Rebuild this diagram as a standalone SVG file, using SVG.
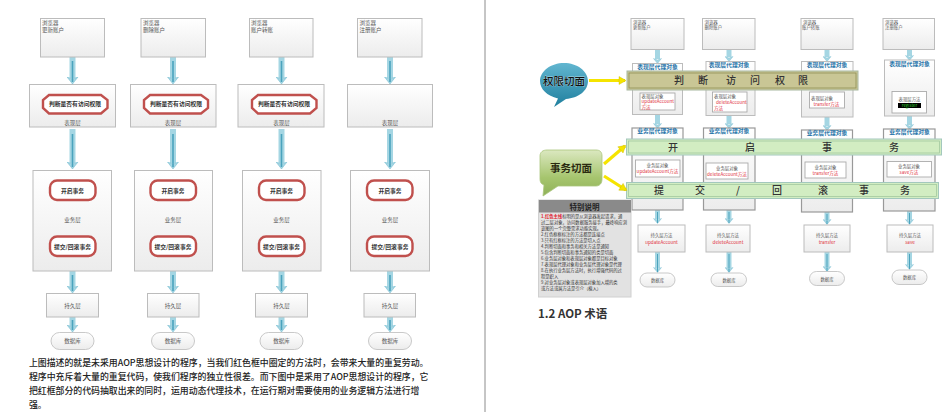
<svg xmlns="http://www.w3.org/2000/svg" width="949" height="412" viewBox="0 0 949 412">
<style>
text{font-family:"Noto Sans CJK SC","Noto Sans",sans-serif;fill:#555;font-size:5.5px}
.m{text-anchor:middle}
.t{font-size:4.4px}
.box{fill:url(#g);stroke:#bcbcbc;stroke-width:1}
.red{fill:#fff;stroke:#c0504d;stroke-width:2.4}
.rt{fill:#333;font-weight:700;font-size:5.8px;text-anchor:middle}
.s{stroke:#a5d6e3;stroke-width:6;marker-end:url(#h);fill:none}
.s2{stroke:#a5d6e3;stroke-width:5;marker-end:url(#h2);fill:none}
.c{stroke:#4ba3bd;stroke-width:1.6;fill:none}
.c2{stroke:#4ba3bd;stroke-width:1;fill:none}
.db{fill:url(#g);stroke:#bbb;stroke-width:.8}
.p{font-size:8.9px;fill:#222;font-weight:500}
.pb{fill:#1f73a8;font-size:5.8px;font-weight:700;text-anchor:middle}
.r{fill:#e0303c;font-size:4.6px;text-anchor:middle}
.rs{fill:#e0303c;font-size:4.6px}
.in{fill:#fff;stroke:#aaa;stroke-width:.9}
.bt{font-size:10px;font-weight:500;fill:#333;text-anchor:middle}
.ye{stroke:#f5e400;stroke-width:3.2;marker-end:url(#y);fill:none}
.sp{font-size:4.3px;fill:#333}
.b{fill:url(#g);stroke:#999;stroke-width:1.2}
</style>
<defs>
<linearGradient id="g" x1="0" y1="0" x2="0" y2="1"><stop offset="0" stop-color="#fff"/><stop offset="1" stop-color="#ececec"/></linearGradient>
<linearGradient id="bl" x1="0" y1="0" x2="0" y2="1"><stop offset="0" stop-color="#62b6d0"/><stop offset="1" stop-color="#1f7f9e"/></linearGradient>
<linearGradient id="gr" x1="0" y1="0" x2="0" y2="1"><stop offset="0" stop-color="#dbe8c0"/><stop offset=".6" stop-color="#a6c56e"/><stop offset="1" stop-color="#8fb158"/></linearGradient>
<marker id="h" markerUnits="userSpaceOnUse" markerWidth="8" markerHeight="12" refX="1.500" refY="6" orient="auto" viewBox="0 0 8 12"><path d="M.5 .5L7.500 6 .5 11.500 2.500 6Z" fill="#a5d6e3" stroke="#6fb9cf" stroke-width=".5"/></marker>
<marker id="h2" markerUnits="userSpaceOnUse" markerWidth="6" markerHeight="9" refX="1" refY="4.500" orient="auto" viewBox="0 0 6 9"><path d="M.5 .5L5.500 4.500 .5 8.500 2 4.500Z" fill="#a5d6e3" stroke="#6fb9cf" stroke-width=".4"/></marker>
<marker id="y" markerUnits="userSpaceOnUse" markerWidth="10" markerHeight="10" refX="8" refY="5" orient="auto" viewBox="0 0 10 10"><path d="M2 1L9 5 2 9Z" fill="#f5e400" stroke="#c9b900" stroke-width=".4"/></marker>
</defs>
<rect width="949" height="412" fill="#fff"/>
<line x1="485" y1="0" x2="485" y2="412" stroke="#8c8c8c" stroke-width="1"/>

<g id="connectors">
<path class="s" d="M72.500 57V78"/><path class="s" d="M72.500 129V163"/><path class="s" d="M72.500 271V287"/><path class="s" d="M72.500 317V326"/>
<path class="s" d="M173 57V78"/><path class="s" d="M173 129V163"/><path class="s" d="M173 271V287"/><path class="s" d="M173 317V326"/>
<path class="s" d="M281.500 57V78"/><path class="s" d="M281.500 129V163"/><path class="s" d="M281.500 271V287"/><path class="s" d="M281.500 317V326"/>
<path class="s" d="M390 57V78"/><path class="s" d="M390 129V163"/><path class="s" d="M390 271V287"/><path class="s" d="M390 317V326"/>
<path class="c" d="M72.500 61V82M72.500 134V167M72.500 275V291M72.500 320V330M173 61V82M173 134V167M173 275V291M173 320V330M281.500 61V82M281.500 134V167M281.500 275V291M281.500 320V330M390 61V82M390 134V167M390 275V291M390 320V330"/>
<path class="s2" d="M657.500 50V59"/><path class="s2" d="M657.500 115V124"/><path class="s2" d="M657.500 210V219"/><path class="s2" d="M657.500 252V268"/>
<path class="s2" d="M729 50V57"/><path class="s2" d="M729 116V124"/><path class="s2" d="M729 210V219"/><path class="s2" d="M729 252V268"/>
<path class="s2" d="M827 50V57"/><path class="s2" d="M827 117V126"/><path class="s2" d="M827 212V220"/><path class="s2" d="M827 252V267"/>
<path class="s2" d="M909.500 50V56"/><path class="s2" d="M909.500 116V125"/><path class="s2" d="M909.500 211V220"/><path class="s2" d="M909.500 252V265"/>
<path class="c2" d="M657.500 212V223M657.500 254V272M729 212V223M729 254V272M827 214V224M827 254V271M909.500 213V224M909.500 254V269"/>
</g>

<g id="l-browser-1"><rect class="box" x="40.500" y="18.500" width="64" height="38.500"/><text x="42" y="24.500">浏览器</text><text x="42" y="31.500">更新账户</text></g>
<g id="l-browser-2"><rect class="box" x="141" y="18.500" width="64.500" height="38.500"/><text x="143" y="24.500">浏览器</text><text x="143" y="31.500">删除账户</text></g>
<g id="l-browser-3"><rect class="box" x="249.500" y="18.500" width="63.500" height="38.500"/><text x="251" y="24.500">浏览器</text><text x="251" y="31.500">账户转账</text></g>
<g id="l-browser-4"><rect class="box" x="357.500" y="18.500" width="64.500" height="38.500"/><text x="359.500" y="24.500">浏览器</text><text x="359.500" y="31.500">注册账户</text></g>

<g id="l-web-1"><rect class="box" x="29.500" y="84.500" width="86" height="42.500"/><path class="red" d="M49 95H101L107.500 100V108L101 113.500H49L43 108V100Z"/><text class="rt" x="75" y="105.500">判断是否有访问权限</text><text class="m" x="72.500" y="125">表现层</text></g>
<g id="l-web-2"><rect class="box" x="130.500" y="84.500" width="85.500" height="42.500"/><path class="red" d="M150 95H201L208 100V108L201 113.500H150L144 108V100Z"/><text class="rt" x="176" y="105.500">判断是否有访问权限</text><text class="m" x="173" y="125">表现层</text></g>
<g id="l-web-3"><rect class="box" x="238" y="84.500" width="86" height="42.500"/><path class="red" d="M258 95H310L316.500 100V108L310 113.500H258L252 108V100Z"/><text class="rt" x="284" y="105.500">判断是否有访问权限</text><text class="m" x="281.500" y="125">表现层</text></g>
<g id="l-web-4"><rect class="box" x="347.500" y="84.500" width="85" height="42.500"/><text class="m" x="390" y="125">表现层</text></g>

<g id="l-biz-1"><rect class="box" x="33" y="170.500" width="78.500" height="100.500"/><rect class="red" x="50" y="180.500" width="45.500" height="19.500" rx="7"/><text class="rt" x="72.500" y="192.500">开启事务</text><text class="m" x="72.500" y="222">业务层</text><rect class="red" x="50" y="236.500" width="45.500" height="19.500" rx="7"/><text class="rt" x="72.500" y="248.500">提交/回滚事务</text></g>
<g id="l-biz-2"><rect class="box" x="134.500" y="170.500" width="78" height="100.500"/><rect class="red" x="150.500" y="180.500" width="45.500" height="19.500" rx="7"/><text class="rt" x="173" y="192.500">开启事务</text><text class="m" x="173" y="222">业务层</text><rect class="red" x="150.500" y="236.500" width="45.500" height="19.500" rx="7"/><text class="rt" x="173" y="248.500">提交/回滚事务</text></g>
<g id="l-biz-3"><rect class="box" x="242.500" y="170.500" width="78.500" height="100.500"/><rect class="red" x="259" y="180.500" width="45.500" height="19.500" rx="7"/><text class="rt" x="281.500" y="192.500">开启事务</text><text class="m" x="281.500" y="222">业务层</text><rect class="red" x="259" y="236.500" width="45.500" height="19.500" rx="7"/><text class="rt" x="281.500" y="248.500">提交/回滚事务</text></g>
<g id="l-biz-4"><rect class="box" x="350.500" y="170.500" width="79" height="100.500"/><rect class="red" x="367" y="180.500" width="45.500" height="19.500" rx="7"/><text class="rt" x="390" y="192.500">开启事务</text><text class="m" x="390" y="222">业务层</text><rect class="red" x="367" y="236.500" width="45.500" height="19.500" rx="7"/><text class="rt" x="390" y="248.500">提交/回滚事务</text></g>

<g id="l-dao-1"><rect class="box" x="46.500" y="293.500" width="52" height="23.500"/><text class="m" x="72.500" y="307.500">持久层</text></g>
<g id="l-dao-2"><rect class="box" x="147.500" y="293.500" width="51.500" height="23.500"/><text class="m" x="173" y="307.500">持久层</text></g>
<g id="l-dao-3"><rect class="box" x="255.500" y="293.500" width="52" height="23.500"/><text class="m" x="281.500" y="307.500">持久层</text></g>
<g id="l-dao-4"><rect class="box" x="364" y="293.500" width="51.500" height="23.500"/><text class="m" x="390" y="307.500">持久层</text></g>
<g id="l-db-1"><rect class="db" x="51" y="332.500" width="43" height="17" rx="8.500"/><text class="m" x="72.500" y="343">数据库</text></g>
<g id="l-db-2"><rect class="db" x="151.500" y="332.500" width="43" height="17" rx="8.500"/><text class="m" x="173" y="343">数据库</text></g>
<g id="l-db-3"><rect class="db" x="260" y="332.500" width="43" height="17" rx="8.500"/><text class="m" x="281.500" y="343">数据库</text></g>
<g id="l-db-4"><rect class="db" x="368.500" y="332.500" width="43" height="17" rx="8.500"/><text class="m" x="390" y="343">数据库</text></g>

<g id="paragraph">
<text class="p" x="29" y="366">上图描述的就是未采用AOP思想设计的程序&#xFF0C;当我们红色框中圈定的方法时&#xFF0C;会带来大量的重复劳动。</text>
<text class="p" x="29" y="380">程序中充斥着大量的重复代码&#xFF0C;使我们程序的独立性很差。而下图中是采用了AOP思想设计的程序&#xFF0C;它</text>
<text class="p" x="29" y="394">把红框部分的代码抽取出来的同时&#xFF0C;运用动态代理技术&#xFF0C;在运行期对需要使用的业务逻辑方法进行增</text>
<text class="p" x="29" y="408">强。</text>
</g>

<g id="r-browser-1"><rect class="box" x="631" y="18.500" width="53" height="31"/><text class="t" x="633" y="23.500">浏览器</text><text class="t" x="633" y="29">更新账户</text></g>
<g id="r-browser-2"><rect class="box" x="702.500" y="18.500" width="52.500" height="31"/><text class="t" x="704.500" y="23.500">浏览器</text><text class="t" x="704.500" y="29">删除账户</text></g>
<g id="r-browser-3"><rect class="box" x="801" y="18.500" width="52" height="31"/><text class="t" x="803" y="23.500">浏览器</text><text class="t" x="802" y="29">账户转账</text></g>
<g id="r-browser-4"><rect class="box" x="883" y="18.500" width="51.500" height="31"/><text class="t" x="885" y="23.500">浏览器</text><text class="t" x="885" y="29">注册账户</text></g>

<g id="r-proxy-1"><rect class="box" x="632.500" y="63.500" width="50" height="51"/><text class="pb" x="657.500" y="68.500">表现层代理对象</text><rect class="in" x="640" y="93" width="35" height="17"/><text class="t" x="641.500" y="97.500">表现层对象</text><text class="rs" x="641.500" y="103.300">updateAccount</text><text class="rs" x="641.500" y="108.800">方法</text></g>
<g id="r-proxy-2"><rect class="box" x="706" y="61.500" width="49" height="54"/><text class="pb" x="729" y="67">表现层代理对象</text><rect class="in" x="712.500" y="92" width="34.500" height="20"/><text class="t" x="714" y="98">表现层对象</text><text class="rs" x="716" y="103.800">deleteAccount</text><text class="rs" x="714" y="109.800">方法</text></g>
<g id="r-proxy-3"><rect class="box" x="801.500" y="61.500" width="51.500" height="55.500"/><text class="pb" x="827" y="66.500">表现层代理对象</text><rect class="in" x="809.500" y="92" width="35" height="16"/><text class="t" x="811" y="100">表现层对象</text><text class="rs" x="813.500" y="105.800">transfer方法</text></g>
<g id="r-proxy-4"><rect class="box" x="884.500" y="60" width="50" height="56"/><text class="pb" x="909.500" y="65.500">表现层代理对象</text><rect class="in" x="892" y="91.500" width="34.500" height="21.500"/><text class="m t" x="909.500" y="101">表现层方法</text><rect x="898" y="103" width="23" height="5" fill="#000"/><text class="m t" x="909.500" y="107.300" style="fill:#2fd12f">register</text></g>

<g id="r-biz-1"><rect class="b" x="632" y="128" width="51" height="82"/><text class="pb" x="657.500" y="133">业务层代理对象</text><rect class="in" x="635.500" y="160" width="44.500" height="17"/><text class="m t" x="657.500" y="167">业务层对象</text><text class="r" x="657.500" y="173">updateAccount方法</text></g>
<g id="r-biz-2"><rect class="b" x="703.500" y="128" width="51.500" height="82"/><text class="pb" x="729" y="133">业务层代理对象</text><rect class="in" x="706" y="163" width="42" height="16"/><text class="m t" x="727" y="170">业务层对象</text><text class="r" x="727" y="175.800">deleteAccount方法</text></g>
<g id="r-biz-3"><rect class="b" x="801.500" y="130" width="51" height="82"/><text class="pb" x="827" y="135">业务层代理对象</text><rect class="in" x="805" y="162" width="41" height="16"/><text class="m t" x="825.500" y="169">业务层对象</text><text class="r" x="825.500" y="175">transfer方法</text></g>
<g id="r-biz-4"><rect class="b" x="883.500" y="129" width="51.500" height="82"/><text class="pb" x="909.500" y="134">业务层代理对象</text><rect class="in" x="887" y="161.500" width="44.500" height="15.500"/><text class="m t" x="909" y="168">业务层对象</text><text class="r" x="909" y="174">save方法</text></g>

<g id="band-auth"><rect x="627" y="71" width="231" height="19" fill="#c9c695" stroke="#a8b8a0" stroke-width="1"/><rect x="629" y="73" width="227" height="15" fill="none" stroke="#8f8e55" stroke-width=".8"/>
<text class="bt" x="679" y="84">判</text><text class="bt" x="703" y="84">断</text><text class="bt" x="731" y="84">访</text><text class="bt" x="755" y="84">问</text><text class="bt" x="780" y="84">权</text><text class="bt" x="803" y="84">限</text></g>
<g id="band-open"><rect x="626.500" y="139" width="315" height="16" fill="#d2edc2" stroke="#a3c8bd" stroke-width="1"/><rect x="628.500" y="141" width="311" height="12" fill="none" stroke="#9cc49a" stroke-width=".7"/>
<text class="bt" x="673" y="150.500">开</text><text class="bt" x="750" y="150.500">启</text><text class="bt" x="827" y="150.500">事</text><text class="bt" x="894" y="150.500">务</text></g>
<g id="band-commit"><rect x="626.500" y="182.500" width="312" height="16" fill="#d2edc2" stroke="#a3c8bd" stroke-width="1"/><rect x="628.500" y="184.500" width="308" height="12" fill="none" stroke="#9cc49a" stroke-width=".7"/>
<text class="bt" x="659" y="194">提</text><text class="bt" x="700" y="194">交</text><text class="bt" x="738" y="194">/</text><text class="bt" x="777" y="194">回</text><text class="bt" x="823" y="194">滚</text><text class="bt" x="864" y="194">事</text><text class="bt" x="905" y="194">务</text></g>

<g id="r-dao-1"><rect class="box" x="638" y="225" width="47" height="27"/><text class="m t" x="661.500" y="237">持久层方法</text><text class="r" x="661.500" y="243.500">updateAccount</text></g>
<g id="r-dao-2"><rect class="box" x="706" y="225" width="44" height="27"/><text class="m t" x="728" y="237">持久层方法</text><text class="r" x="728" y="243.500">deleteAccount</text></g>
<g id="r-dao-3"><rect class="box" x="804" y="225" width="46" height="27"/><text class="m t" x="827" y="237">持久层方法</text><text class="r" x="827" y="243.500">transfer</text></g>
<g id="r-dao-4"><rect class="box" x="887" y="225" width="46" height="27"/><text class="m t" x="910" y="237">持久层方法</text><text class="r" x="910" y="243.500">save</text></g>
<g id="r-db-1"><rect class="db" x="640" y="273" width="35" height="14" rx="7"/><text class="m t" x="657.500" y="282">数据库</text></g>
<g id="r-db-2"><rect class="db" x="711" y="273" width="35.500" height="13.500" rx="6.700"/><text class="m t" x="729" y="281.500">数据库</text></g>
<g id="r-db-3"><rect class="db" x="809.500" y="271.500" width="35" height="14" rx="7"/><text class="m t" x="827" y="280.500">数据库</text></g>
<g id="r-db-4"><rect class="db" x="892" y="270" width="35" height="14.500" rx="7"/><text class="m t" x="909.500" y="279">数据库</text></g>

<g id="callout-auth"><path d="M564 63C577 63 588 71 588 81C588 91 578 98 566 99L554 107L558 98.500C547 96 540 89 540 81C540 71 551 63 564 63Z" fill="url(#bl)"/><text class="m" x="564" y="85" style="font-size:10.500px;font-weight:500;fill:#111;stroke:#fff;stroke-width:.3;paint-order:stroke">权限切面</text></g>
<g id="callout-tx"><path d="M547 150H596C600 150 602 152 602 156V179C602 183 600 186 596 186H558L543 196L544 185C541 184 540 182 540 179V156C540 152 543 150 547 150Z" fill="url(#gr)" stroke="#a9c57c" stroke-width=".8"/><text class="m" x="571" y="172" style="font-size:10.500px;font-weight:700;fill:#2a2a10">事务切面</text></g>
<g id="yellow-arrows"><line class="ye" x1="589" y1="80.500" x2="625" y2="80.500"/><line class="ye" x1="604" y1="164" x2="625" y2="146"/><line class="ye" x1="604" y1="176" x2="626" y2="190"/></g>

<g id="notes"><rect x="538.500" y="200" width="92.500" height="97" fill="#e2e2e2" stroke="#d0d0d0" stroke-width="1"/><rect x="539" y="200" width="92" height="12.500" fill="#8a8a8a"/><text class="m" x="584.500" y="209.500" style="font-size:7.500px;font-weight:700;fill:#222">特别说明</text>
<text class="sp" x="541" y="218"><tspan fill="#e0202c" font-weight="700">1.红色主线</tspan>标明的是从浏览器发起请求&#xFF0C;通</text>
<text class="sp" x="541" y="224">过二层对象&#xFF0C;访问数据服务接手&#xFF0C;最终响应浏</text>
<text class="sp" x="541" y="230">览图的一个完整需求功能实现。</text>
<text class="sp" x="541" y="236">2.红色框框标注的方法都是连接点</text>
<text class="sp" x="541" y="242">3.只有红框标注的方法是切入点</text>
<text class="sp" x="541" y="248">4.判断切面和事务和相关方法是通知</text>
<text class="sp" x="541" y="254">5.包含判断切面和事务通知的类是切面</text>
<text class="sp" x="541" y="260">6.业务层对象和表现层对象都是目标对象</text>
<text class="sp" x="541" y="266">7.表现层代理对象和业务层代理对象是代理</text>
<text class="sp" x="541" y="272">8.在执行业务层方法时&#xFF0C;执行增强代码的过</text>
<text class="sp" x="541" y="278">程是织入</text>
<text class="sp" x="541" y="284">9.对业务层对象或表现层对象加入增的类</text>
<text class="sp" x="541" y="290">或方法或属方法是引介&#xFF08;植入&#xFF09;</text></g>

<text x="538" y="318" style="font-size:11.500px;font-weight:700;fill:#333">1.2 AOP 术语</text>
</svg>
